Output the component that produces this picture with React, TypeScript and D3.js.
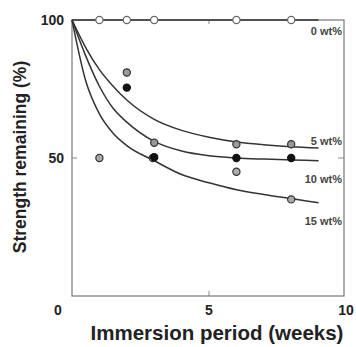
import React, { useEffect, useRef } from "react";
import * as d3 from "d3";

// fitted curves
const weeks = [0, 0.5, 1, 1.5, 2, 3, 4, 5, 6, 7, 8, 9];
const fit0 = [100, 100, 100, 100, 100, 100, 100, 100, 100, 100, 100, 100];
const fit5 = [100, 90, 82, 76, 71, 64, 60, 57.5, 55.8, 54.8, 54.1, 53.6];
const fit10 = [100, 87, 76, 68, 63, 56, 52.5, 50.8, 50, 49.6, 49.3, 49];
const fit15 = [100, 78, 66, 59, 54.5, 49, 44, 41, 38.5, 36.8, 35.3, 33.8];

// measured points
const weeks0 = [1, 2, 3, 6, 8];
const vals0 = [100, 100, 100, 100, 100];
const weeks5 = [2, 3, 6, 8];
const vals5 = [81, 55.5, 55, 55];
const weeks10 = [2, 3, 6, 8];
const vals10 = [75.5, 50.3, 50, 50];
const weeks15 = [1, 2.95, 6, 8];
const vals15 = [50, 50, 45, 35];

const labels = ["0 wt%", "5 wt%", "10 wt%", "15 wt%"];
const labelPos = [96, 56, 42.5, 27];

const xTicks = [0, 5, 10];
const yTicks = [50, 100];

const width = 356;
const height = 347;
const margin = { top: 20, right: 10, bottom: 51, left: 72 };
const font = "'Liberation Sans', Arial, sans-serif";

export default function App() {
  const svgRef = useRef(null);

  useEffect(() => {
    document.body.style.margin = "0";
    const svg = d3.select(svgRef.current);
    svg.selectAll("*").remove();

    const x = d3
      .scaleLinear()
      .domain([0, 10])
      .range([margin.left, width - margin.right]);
    const y = d3
      .scaleLinear()
      .domain([0, 100])
      .range([height - margin.bottom, margin.top]);

    // frame
    svg
      .append("rect")
      .attr("x", x(0))
      .attr("y", y(100))
      .attr("width", x(10) - x(0) - 2)
      .attr("height", y(0) - y(100))
      .attr("fill", "none")
      .attr("stroke", "#777")
      .attr("stroke-width", 1.2);

    // inward ticks
    const tk = svg.append("g").attr("stroke", "#888").attr("stroke-width", 1);
    tk.append("line").attr("x1", x(5)).attr("x2", x(5)).attr("y1", y(0)).attr("y2", y(0) - 5);
    tk.append("line").attr("x1", x(5)).attr("x2", x(5)).attr("y1", y(100)).attr("y2", y(100) + 4);
    tk.append("line").attr("x1", x(0)).attr("x2", x(0) + 5).attr("y1", y(50)).attr("y2", y(50));
    tk.append("line").attr("x1", x(10) - 2).attr("x2", x(10) - 8).attr("y1", y(50)).attr("y2", y(50));

    // tick labels
    svg
      .append("g")
      .selectAll("text")
      .data(yTicks)
      .join("text")
      .attr("x", x(0) - 8)
      .attr("y", (d) => y(d) + 5)
      .attr("text-anchor", "end")
      .attr("font-family", font)
      .attr("font-weight", "bold")
      .attr("font-size", 14)
      .attr("fill", "#222")
      .text((d) => d);

    svg
      .append("g")
      .selectAll("text")
      .data(xTicks)
      .join("text")
      .attr("x", (d) => (d === 0 ? x(d) - 14 : x(d)))
      .attr("y", y(0) + 19)
      .attr("text-anchor", "middle")
      .attr("font-family", font)
      .attr("font-weight", "bold")
      .attr("font-size", 14)
      .attr("fill", "#222")
      .text((d) => d);

    // curves
    const line = d3
      .line<number>()
      .x((d, i) => x(weeks[i]))
      .y((d) => y(d))
      .curve(d3.curveMonotoneX);

    svg
      .append("g")
      .attr("fill", "none")
      .attr("stroke", "#333")
      .attr("stroke-width", 1.5)
      .selectAll("path")
      .data([fit0, fit5, fit10, fit15])
      .join("path")
      .attr("d", (d) => line(d));

    // markers (15 wt% before 10 wt% so the black dot stays on top)
    const groups = [
      { w: weeks0, v: vals0, fill: "#fff", stroke: "#666" },
      { w: weeks5, v: vals5, fill: "#999", stroke: "#333" },
      { w: weeks15, v: vals15, fill: "#aaa", stroke: "#333" },
      { w: weeks10, v: vals10, fill: "#111", stroke: "#111" },
    ];
    groups.forEach((g) => {
      svg
        .append("g")
        .selectAll("circle")
        .data(g.v)
        .join("circle")
        .attr("cx", (d, i) => x(g.w[i]))
        .attr("cy", (d) => y(d))
        .attr("r", 3.6)
        .attr("fill", g.fill)
        .attr("stroke", g.stroke)
        .attr("stroke-width", 1.2);
    });

    // series labels
    svg
      .append("g")
      .selectAll("text")
      .data(labels)
      .join("text")
      .attr("x", x(10) - 4)
      .attr("y", (d, i) => y(labelPos[i]) + 4)
      .attr("text-anchor", "end")
      .attr("font-family", font)
      .attr("font-weight", "bold")
      .attr("font-size", 11)
      .attr("fill", "#444")
      .text((d) => d);

    // axis titles
    svg
      .append("text")
      .attr("x", 217)
      .attr("y", 340)
      .attr("text-anchor", "middle")
      .attr("font-family", font)
      .attr("font-weight", "bold")
      .attr("font-size", 20.5)
      .attr("fill", "#222")
      .text("Immersion period (weeks)");

    svg
      .append("text")
      .attr("transform", "translate(26,157) rotate(-90)")
      .attr("text-anchor", "middle")
      .attr("font-family", font)
      .attr("font-weight", "bold")
      .attr("font-size", 17.5)
      .attr("fill", "#222")
      .text("Strength remaining (%)");
  }, []);

  return (
    <div>
      <svg ref={svgRef} width={width} height={height} style={{ display: "block", background: "#fff" }}></svg>
    </div>
  );
}
